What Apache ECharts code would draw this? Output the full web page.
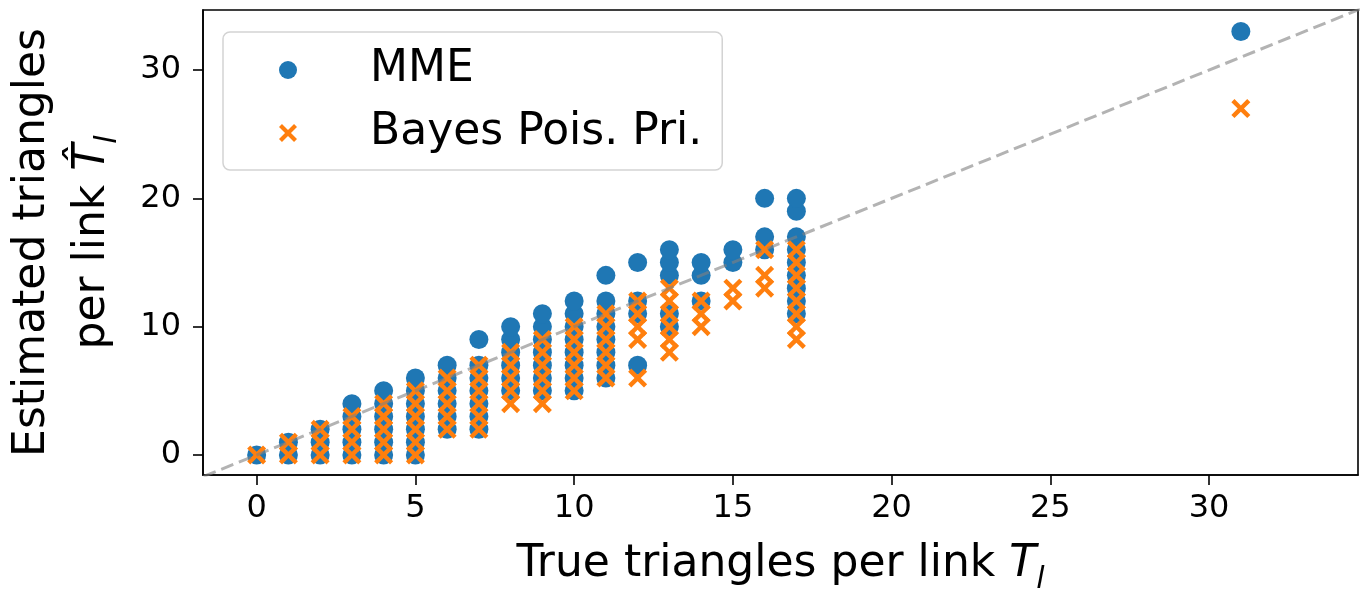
<!DOCTYPE html>
<html>
<head>
<meta charset="utf-8">
<script src="https://cdn.jsdelivr.net/npm/echarts@6/dist/echarts.min.js"></script>
<style>
  html, body { margin: 0; padding: 0; background: #ffffff; }
  #chart { width: 1364px; height: 593px; }
</style>
</head>
<body>
<div id="chart"></div>
<script>
// True number of triangles per link (one column of estimates per value)
const trueCounts = [0, 1, 2, 3, 4, 5, 6, 7, 8, 9, 10, 11, 12, 13, 14, 15, 16, 17, 31];

// Method-of-moments estimates observed for each true count
const mmeEstimates = [
  [0],
  [0, 1],
  [0, 1, 2],
  [0, 1, 2, 3, 4],
  [0, 1, 2, 3, 4, 5],
  [0, 1, 2, 3, 4, 5, 6],
  [2, 3, 4, 5, 6, 7],
  [2, 3, 4, 5, 6, 7, 9],
  [5, 6, 7, 8, 9, 10],
  [5, 6, 7, 8, 9, 10, 11],
  [5, 6, 7, 8, 9, 10, 11, 12],
  [6, 7, 8, 9, 10, 11, 12, 14],
  [7, 11, 12, 15],
  [10, 11, 14, 15, 16],
  [12, 14, 15],
  [15, 16],
  [16, 17, 20],
  [11, 12, 13, 14, 15, 16, 17, 19, 20],
  [33]
];

// Bayesian estimates with Poisson prior for each true count
const bayesEstimates = [
  [0],
  [0, 1],
  [0, 1, 2],
  [0, 1, 2, 3],
  [0, 1, 2, 3, 4],
  [0, 1, 2, 3, 4, 5],
  [2, 3, 4, 5, 6],
  [2, 3, 4, 5, 6, 7],
  [4, 5, 6, 7, 8],
  [4, 5, 6, 7, 8, 9],
  [5, 6, 7, 8, 9, 10],
  [6, 7, 8, 9, 10, 11],
  [6, 9, 10, 11, 12],
  [8, 9, 10, 11, 12, 13],
  [10, 11, 12],
  [12, 13],
  [13, 14, 16],
  [9, 10, 11, 12, 13, 14, 15, 16],
  [27]
];

// Axis tick labels and extents
const xTicks = [0, 5, 10, 15, 20, 25, 30];
const yTicks = [0, 10, 20, 30];
const xRange = [-1.69, 34.69];
const yRange = [-1.56, 34.68];

// Reference line y = x (clipped to the plot area)
const diagonal = [[-5, -5], [40, 40]];

const FONT = 'DejaVu Sans';
const BLUE = '#1f77b4';
const ORANGE = '#ff7f0e';
// "x" marker as a filled cross
const CROSS = 'path://M0,3.3 L3.3,0 L10,6.7 L16.7,0 L20,3.3 L13.3,10 L20,16.7 L16.7,20 L10,13.3 L3.3,20 L0,16.7 L6.7,10 Z';

function toPoints(groups) {
  const pts = [];
  trueCounts.forEach((t, i) => groups[i].forEach(v => pts.push([t, v])));
  return pts;
}

const mathRich = {
  it:  { fontFamily: FONT, fontStyle: 'italic', fontSize: 44, color: '#000', lineHeight: 60 },
  sub: { fontFamily: FONT, fontStyle: 'italic', fontSize: 30, color: '#000', lineHeight: 36, verticalAlign: 'bottom' }
};

const chart = echarts.init(document.getElementById('chart'), null, { renderer: 'canvas' });

chart.setOption({
  animation: false,
  backgroundColor: '#ffffff',
  grid: {
    left: 203, right: 6, top: 10, bottom: 118,
    outerBoundsMode: 'none',
    containLabel: false,
    show: true, borderColor: '#000', borderWidth: 1.6, backgroundColor: 'transparent'
  },
  legend: {
    orient: 'vertical',
    left: 223, top: 32,
    padding: [13, 20, 12, 56],
    itemGap: 13,
    itemWidth: 18, itemHeight: 18,
    backgroundColor: 'rgba(255,255,255,0.8)',
    borderColor: '#d3d3d3', borderWidth: 1.5, borderRadius: 7,
    textStyle: { fontFamily: FONT, fontSize: 44, lineHeight: 50, color: '#000', padding: [0, 0, 0, 68] },
    data: [
      { name: 'MME', icon: 'circle' },
      { name: 'Bayes Pois. Pri.', icon: CROSS }
    ]
  },
  xAxis: {
    type: 'value',
    min: xRange[0], max: xRange[1],
    position: 'bottom',
    splitLine: { show: false },
    axisLine: { onZero: false, lineStyle: { color: '#000', width: 1.6 } },
    axisTick: { show: true, length: 10, lineStyle: { color: '#000', width: 1.6 }, customValues: xTicks },
    axisLabel: { customValues: xTicks, fontFamily: FONT, fontSize: 32, color: '#000', margin: 18 },
    name: 'True triangles per link {it|T}{sub|l}',
    nameLocation: 'middle',
    nameGap: 60,
    nameTextStyle: { fontFamily: FONT, fontSize: 44, color: '#000', lineHeight: 60, rich: mathRich }
  },
  yAxis: {
    type: 'value',
    min: yRange[0], max: yRange[1],
    position: 'left',
    splitLine: { show: false },
    axisLine: { onZero: false, lineStyle: { color: '#000', width: 1.6 } },
    axisTick: { show: true, length: 10, lineStyle: { color: '#000', width: 1.6 }, customValues: yTicks },
    axisLabel: { customValues: yTicks, fontFamily: FONT, fontSize: 32, color: '#000', margin: 22 },
    name: 'Estimated triangles\nper link {it|T\u0302}{sub|l}',
    nameLocation: 'middle',
    nameGap: 80,
    nameTextStyle: { fontFamily: FONT, fontSize: 44, color: '#000', lineHeight: 60, rich: mathRich }
  },
  series: [
    {
      name: 'MME',
      type: 'scatter',
      data: toPoints(mmeEstimates),
      symbol: 'circle',
      symbolSize: 19,
      itemStyle: { color: BLUE, opacity: 1 },
      z: 2
    },
    {
      name: 'Bayes Pois. Pri.',
      type: 'scatter',
      data: toPoints(bayesEstimates),
      symbol: CROSS,
      symbolSize: 19,
      itemStyle: { color: ORANGE, opacity: 1 },
      z: 3
    },
    {
      name: 'y = x',
      type: 'line',
      data: diagonal,
      showSymbol: false,
      symbol: 'none',
      silent: true,
      clip: true,
      lineStyle: { color: 'rgba(128,128,128,0.6)', width: 3, type: [13, 6] },
      z: 4
    }
  ]
});
</script>
</body>
</html>
